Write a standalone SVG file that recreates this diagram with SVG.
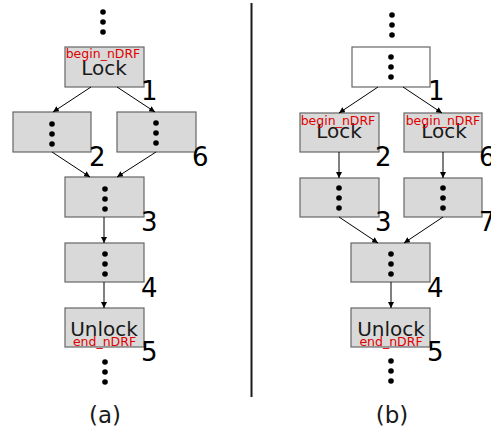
<svg xmlns="http://www.w3.org/2000/svg" width="491" height="432" viewBox="0 0 491 432">
  <defs>
    <marker id="arr" viewBox="0 0 10 10" refX="10" refY="5" markerWidth="6" markerHeight="6" markerUnits="userSpaceOnUse" orient="auto">
      <path d="M0,0 L10,5 L0,10 z" fill="#000"/>
    </marker>
    <g id="dots">
      <circle cx="0" cy="-10" r="2.8"/>
      <circle cx="0" cy="0" r="2.8"/>
      <circle cx="0" cy="10" r="2.8"/>
    </g>
  </defs>
  <style>
    .box { fill: #d9d9d9; stroke: #666; stroke-width: 1.2; }
    .wbox { fill: #fff; stroke: #666; stroke-width: 1.2; }
    .kw { font-family: "DejaVu Sans", sans-serif; font-size: 20px; fill: #1a1a1a; text-anchor: middle; }
    .tag { font-family: "DejaVu Sans", sans-serif; font-size: 12.5px; fill: #e00000; text-anchor: middle; }
    .num { font-family: "DejaVu Sans", sans-serif; font-size: 26px; fill: #000; }
    .cap { font-family: "DejaVu Sans", sans-serif; font-size: 23px; fill: #1a1a1a; text-anchor: middle; }
    .edge { stroke: #000; stroke-width: 1; fill: none; marker-end: url(#arr); }
    .dots { fill: #000; }
  </style>
  <rect width="491" height="432" fill="#fff"/>

  <!-- (a) single lock region spanning both branches -->
  <g id="a-top-dots" class="dots"><use href="#dots" x="103" y="22"/></g>
  <g id="a-n1">
    <rect class="box" x="65" y="47" width="79" height="40"/>
    <text class="kw" x="104" y="75">Lock</text>
    <text class="tag" x="103" y="58">begin_nDRF</text>
    <text class="num" x="141" y="100">1</text>
  </g>
  <g id="a-n2">
    <rect class="box" x="13" y="112" width="78" height="40"/>
    <use class="dots" href="#dots" x="52" y="134"/>
    <text class="num" x="89" y="166">2</text>
  </g>
  <g id="a-n6">
    <rect class="box" x="117" y="112" width="79" height="40"/>
    <use class="dots" href="#dots" x="156" y="133"/>
    <text class="num" x="192" y="166">6</text>
  </g>
  <g id="a-n3">
    <rect class="box" x="65" y="177" width="79" height="40"/>
    <use class="dots" href="#dots" x="105" y="199"/>
    <text class="num" x="141" y="231">3</text>
  </g>
  <g id="a-n4">
    <rect class="box" x="65" y="243" width="79" height="39"/>
    <use class="dots" href="#dots" x="105" y="264"/>
    <text class="num" x="141" y="297">4</text>
  </g>
  <g id="a-n5">
    <rect class="box" x="65" y="308" width="79" height="39"/>
    <text class="kw" x="104" y="336">Unlock</text>
    <text class="tag" x="104.5" y="346">end_nDRF</text>
    <text class="num" x="141" y="361">5</text>
  </g>
  <g id="a-bottom-dots" class="dots"><use href="#dots" x="105" y="372"/></g>
  <text class="cap" x="105" y="423">(a)</text>

  <!-- divider -->
  <line x1="251.5" y1="3" x2="251.5" y2="397" stroke="#1a1a1a" stroke-width="2"/>

  <!-- (b) a lock region in each branch -->
  <g id="b-top-dots" class="dots"><use href="#dots" x="392" y="25"/></g>
  <g id="b-n1">
    <rect class="wbox" x="352" y="47" width="78" height="40"/>
    <use class="dots" href="#dots" x="391" y="67"/>
    <text class="num" x="428" y="100">1</text>
  </g>
  <g id="b-n2">
    <rect class="box" x="300" y="113" width="79" height="39"/>
    <text class="kw" x="339" y="138">Lock</text>
    <text class="tag" x="338" y="125">begin_nDRF</text>
    <text class="num" x="375" y="166">2</text>
  </g>
  <g id="b-n6">
    <rect class="box" x="404" y="113" width="78" height="39"/>
    <text class="kw" x="444" y="138">Lock</text>
    <text class="tag" x="443" y="125">begin_nDRF</text>
    <text class="num" x="479" y="166">6</text>
  </g>
  <g id="b-n3">
    <rect class="box" x="300" y="178" width="79" height="39"/>
    <use class="dots" href="#dots" x="339" y="198"/>
    <text class="num" x="375" y="231">3</text>
  </g>
  <g id="b-n7">
    <rect class="box" x="404" y="178" width="78" height="39"/>
    <use class="dots" href="#dots" x="443" y="198"/>
    <text class="num" x="479" y="231">7</text>
  </g>
  <g id="b-n4">
    <rect class="box" x="351" y="243" width="79" height="39"/>
    <use class="dots" href="#dots" x="391" y="264"/>
    <text class="num" x="427" y="297">4</text>
  </g>
  <g id="b-n5">
    <rect class="box" x="351" y="308" width="79" height="39"/>
    <text class="kw" x="391" y="336">Unlock</text>
    <text class="tag" x="391" y="346">end_nDRF</text>
    <text class="num" x="427" y="361">5</text>
  </g>
  <g id="b-bottom-dots" class="dots"><use href="#dots" x="391" y="371"/></g>
  <text class="cap" x="392" y="423">(b)</text>

  <g id="connectors">
    <line class="edge" x1="91" y1="87" x2="53" y2="112"/>
    <line class="edge" x1="117" y1="87" x2="155" y2="112"/>
    <line class="edge" x1="52" y1="152" x2="90" y2="177"/>
    <line class="edge" x1="156" y1="152" x2="117" y2="177"/>
    <line class="edge" x1="104" y1="217" x2="104" y2="243"/>
    <line class="edge" x1="104" y1="282" x2="104" y2="308"/>

    <line class="edge" x1="378" y1="87" x2="339" y2="113"/>
    <line class="edge" x1="403" y1="87" x2="442" y2="113"/>
    <line class="edge" x1="339" y1="152" x2="339" y2="178"/>
    <line class="edge" x1="443" y1="152" x2="443" y2="178"/>
    <line class="edge" x1="339" y1="217" x2="378" y2="243"/>
    <line class="edge" x1="443" y1="217" x2="404" y2="243"/>
    <line class="edge" x1="391" y1="282" x2="391" y2="308"/>
  </g>
</svg>
